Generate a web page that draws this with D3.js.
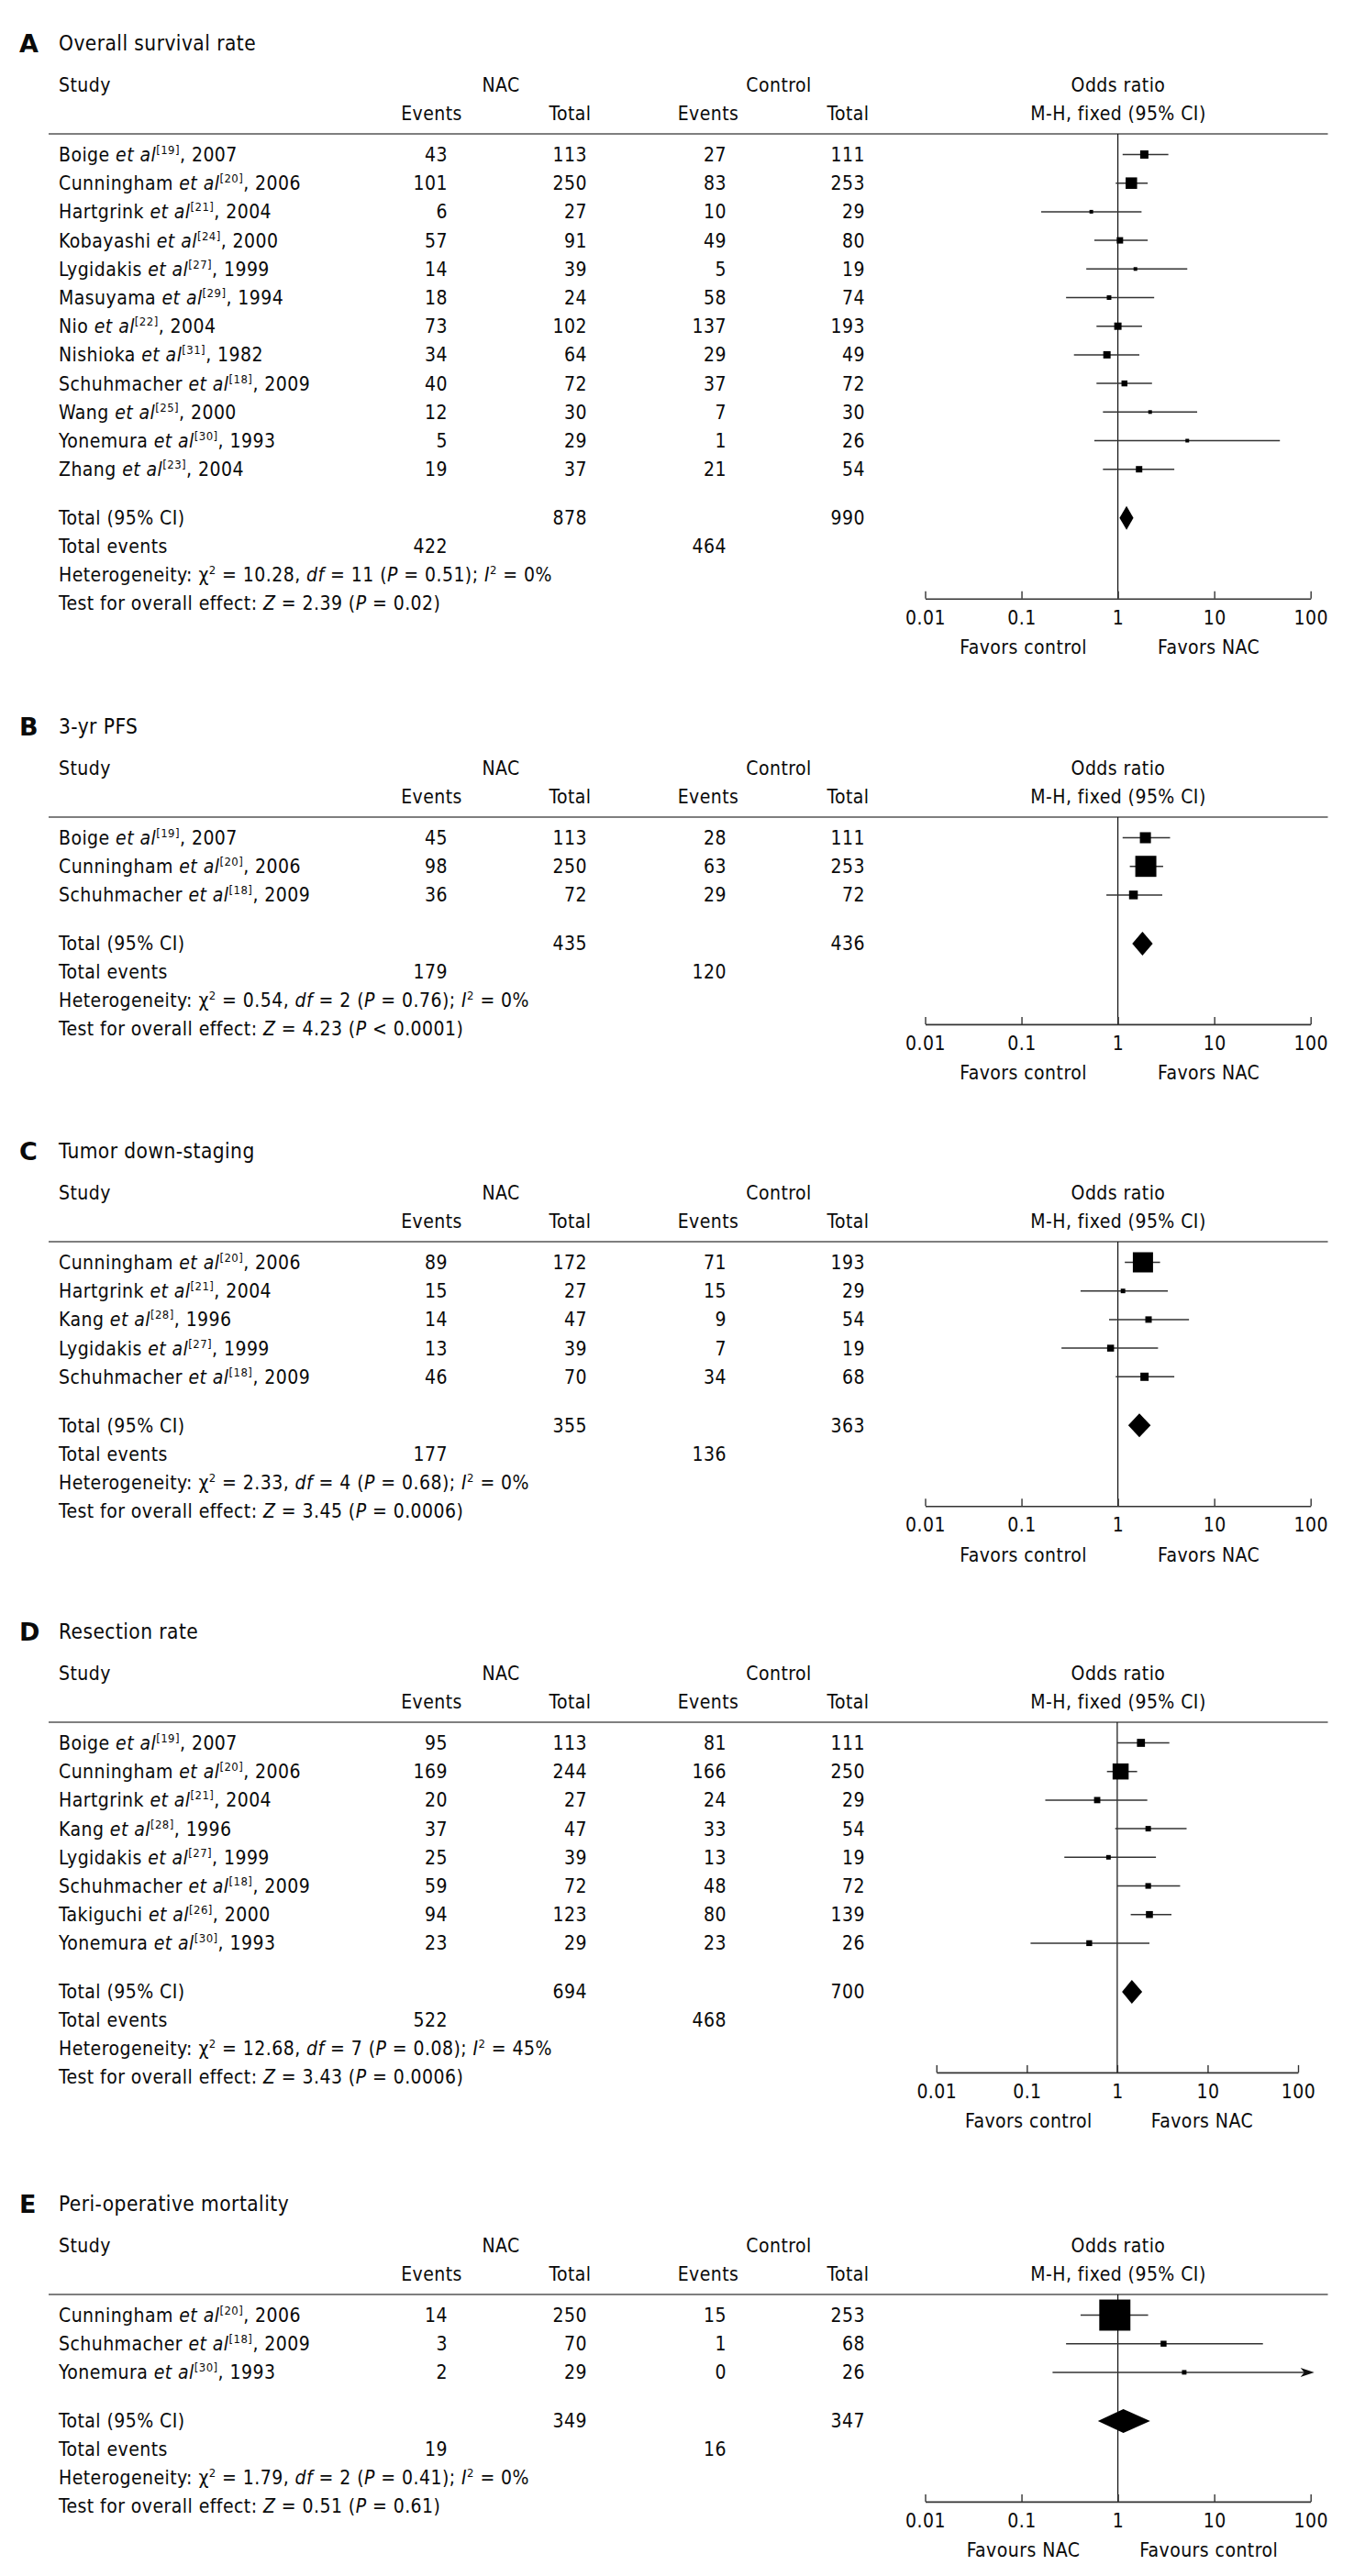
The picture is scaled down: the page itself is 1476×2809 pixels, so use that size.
<!DOCTYPE html>
<html>
<head>
<meta charset="utf-8">
<script src="https://cdn.jsdelivr.net/npm/d3@7"></script>
<style>
  body { margin: 0; background: #fff; }
  text { font-family: "DejaVu Sans Condensed", "DejaVu Sans", sans-serif; font-stretch: condensed; fill: #0a0a0a; letter-spacing: 0.45px; }
</style>
</head>
<body>
<script>
// ---- data ----
var tickValues = [0.01, 0.1, 1, 10, 100];
var tickLabels = ["0.01", "0.1", "1", "10", "100"];

// A: overall survival rate
var osStudies = [["Boige", 19, 2007], ["Cunningham", 20, 2006], ["Hartgrink", 21, 2004], ["Kobayashi", 24, 2000],
  ["Lygidakis", 27, 1999], ["Masuyama", 29, 1994], ["Nio", 22, 2004], ["Nishioka", 31, 1982],
  ["Schuhmacher", 18, 2009], ["Wang", 25, 2000], ["Yonemura", 30, 1993], ["Zhang", 23, 2004]];
var osNacEvents = [43, 101, 6, 57, 14, 18, 73, 34, 40, 12, 5, 19];
var osNacTotal = [113, 250, 27, 91, 39, 24, 102, 64, 72, 30, 29, 37];
var osCtlEvents = [27, 83, 10, 49, 5, 58, 137, 29, 37, 7, 1, 21];
var osCtlTotal = [111, 253, 29, 80, 19, 74, 193, 49, 72, 30, 26, 54];
var osOR = [1.88, 1.38, 0.53, 1.05, 1.52, 0.81, 1.0, 0.77, 1.17, 2.16, 5.25, 1.66];
var osLow = [1.12, 0.95, 0.16, 0.57, 0.47, 0.29, 0.60, 0.35, 0.60, 0.70, 0.57, 0.70];
var osHigh = [3.34, 2.04, 1.76, 2.04, 5.25, 2.38, 1.78, 1.67, 2.26, 6.65, 48, 3.85];
var osWeight = [6.6, 12.8, 1.3, 4, 1.3, 2, 5.2, 5.2, 3.4, 1.3, 1.0, 4];
var osSummary = [1.23, 1.04, 1.45];
var osTotals = [878, 990], osEvents = [422, 464];
var osHet = ["10.28", "11", "= 0.51", "0"], osTest = ["2.39", "= 0.02"];

// B: 3-yr PFS
var pfsStudies = [["Boige", 19, 2007], ["Cunningham", 20, 2006], ["Schuhmacher", 18, 2009]];
var pfsNacEvents = [45, 98, 36];
var pfsNacTotal = [113, 250, 72];
var pfsCtlEvents = [28, 63, 29];
var pfsCtlTotal = [111, 253, 72];
var pfsOR = [1.93, 1.95, 1.45];
var pfsLow = [1.12, 1.33, 0.76];
var pfsHigh = [3.48, 2.95, 2.89];
var pfsWeight = [11.8, 43, 7.4];
var pfsSummary = [1.80, 1.41, 2.30];
var pfsTotals = [435, 436], pfsEvents = [179, 120];
var pfsHet = ["0.54", "2", "= 0.76", "0"], pfsTest = ["4.23", "< 0.0001"];

// C: tumor down-staging
var dsStudies = [["Cunningham", 20, 2006], ["Hartgrink", 21, 2004], ["Kang", 28, 1996],
  ["Lygidakis", 27, 1999], ["Schuhmacher", 18, 2009]];
var dsNacEvents = [89, 15, 14, 13, 46];
var dsNacTotal = [172, 27, 47, 39, 70];
var dsCtlEvents = [71, 15, 9, 7, 34];
var dsCtlTotal = [193, 29, 54, 19, 68];
var dsOR = [1.82, 1.13, 2.08, 0.84, 1.89];
var dsLow = [1.18, 0.41, 0.81, 0.26, 0.95];
var dsHigh = [2.74, 3.30, 5.47, 2.61, 3.85];
var dsWeight = [39.5, 2, 4, 4.6, 6.6];
var dsSummary = [1.67, 1.28, 2.19];
var dsTotals = [355, 363], dsEvents = [177, 136];
var dsHet = ["2.33", "4", "= 0.68", "0"], dsTest = ["3.45", "= 0.0006"];

// D: resection rate
var rsStudies = [["Boige", 19, 2007], ["Cunningham", 20, 2006], ["Hartgrink", 21, 2004], ["Kang", 28, 1996],
  ["Lygidakis", 27, 1999], ["Schuhmacher", 18, 2009], ["Takiguchi", 26, 2000], ["Yonemura", 30, 1993]];
var rsNacEvents = [95, 169, 20, 37, 25, 59, 94, 23];
var rsNacTotal = [113, 244, 27, 47, 39, 72, 123, 29];
var rsCtlEvents = [81, 166, 24, 33, 13, 48, 80, 23];
var rsCtlTotal = [111, 250, 29, 54, 19, 72, 139, 26];
var rsOR = [1.83, 1.09, 0.60, 2.20, 0.80, 2.20, 2.27, 0.49];
var rsLow = [1.0, 0.77, 0.16, 0.95, 0.26, 1.0, 1.41, 0.11];
var rsHigh = [3.77, 1.66, 2.15, 5.85, 2.68, 4.96, 3.98, 2.27];
var rsWeight = [6.2, 25, 3.8, 2.9, 2, 3.1, 4.7, 3.3];
var rsSummary = [1.45, 1.13, 1.89];
var rsTotals = [694, 700], rsEvents = [522, 468];
var rsHet = ["12.68", "7", "= 0.08", "45"], rsTest = ["3.43", "= 0.0006"];

// E: peri-operative mortality
var pmStudies = [["Cunningham", 20, 2006], ["Schuhmacher", 18, 2009], ["Yonemura", 30, 1993]];
var pmNacEvents = [14, 3, 2];
var pmNacTotal = [250, 70, 29];
var pmCtlEvents = [15, 1, 0];
var pmCtlTotal = [253, 68, 26];
var pmOR = [0.93, 2.98, 4.88];
var pmLow = [0.41, 0.29, 0.21];
var pmHigh = [2.06, 32, 120];
var pmWeight = [94, 3.4, 2];
var pmSummary = [1.14, 0.62, 2.16];
var pmTotals = [349, 347], pmEvents = [19, 16];
var pmHet = ["1.79", "2", "= 0.41", "0"], pmTest = ["0.51", "= 0.61"];

var favorsNacRight = ["Favors control", "Favors NAC"];
var favorsNacLeft = ["Favours NAC", "Favours control"];

// ---- panels built from the arrays ----
function rows(st, ne, nt, ce, ct, or, lo, hi, w) {
  return st.map(function (s, i) {
    return { name: s[0], ref: s[1], year: s[2], ne: ne[i], nt: nt[i], ce: ce[i], ct: ct[i],
      or: or[i], lo: lo[i], hi: hi[i], w: w[i] };
  });
}

var panels = [
  { letter: "A", title: "Overall survival rate", top: 47, range: [1008.5, 1428.7],
    rows: rows(osStudies, osNacEvents, osNacTotal, osCtlEvents, osCtlTotal, osOR, osLow, osHigh, osWeight),
    summary: osSummary, totals: osTotals, events: osEvents, het: osHet, test: osTest, favors: favorsNacRight },
  { letter: "B", title: "3-yr PFS", top: 792, range: [1008.5, 1428.7],
    rows: rows(pfsStudies, pfsNacEvents, pfsNacTotal, pfsCtlEvents, pfsCtlTotal, pfsOR, pfsLow, pfsHigh, pfsWeight),
    summary: pfsSummary, totals: pfsTotals, events: pfsEvents, het: pfsHet, test: pfsTest, favors: favorsNacRight },
  { letter: "C", title: "Tumor down-staging", top: 1255, range: [1008.5, 1428.7],
    rows: rows(dsStudies, dsNacEvents, dsNacTotal, dsCtlEvents, dsCtlTotal, dsOR, dsLow, dsHigh, dsWeight),
    summary: dsSummary, totals: dsTotals, events: dsEvents, het: dsHet, test: dsTest, favors: favorsNacRight },
  { letter: "D", title: "Resection rate", top: 1779, range: [1020.8, 1415],
    rows: rows(rsStudies, rsNacEvents, rsNacTotal, rsCtlEvents, rsCtlTotal, rsOR, rsLow, rsHigh, rsWeight),
    summary: rsSummary, totals: rsTotals, events: rsEvents, het: rsHet, test: rsTest, favors: favorsNacRight },
  { letter: "E", title: "Peri-operative mortality", top: 2403, range: [1008.5, 1428.7],
    rows: rows(pmStudies, pmNacEvents, pmNacTotal, pmCtlEvents, pmCtlTotal, pmOR, pmLow, pmHigh, pmWeight),
    summary: pmSummary, totals: pmTotals, events: pmEvents, het: pmHet, test: pmTest, favors: favorsNacLeft }
];

// ---- drawing ----
var width = 1476, height = 2809;
var fs = 21;
var rowGap = 31.2;
var col = { study: 64, nacEv: 488, nacTot: 640, ctlEv: 792, ctlTot: 943,
  nacHead: 546, nacEvHead: 470.5, nacTotHead: 621.5, ctlHead: 849, ctlEvHead: 772, ctlTotHead: 924.5, orHead: 1219 };

var svg = d3.select("body").append("svg")
  .attr("width", width)
  .attr("height", height);

svg.append("rect").attr("width", width).attr("height", height).attr("fill", "#fff");

var boxSize = d3.scaleSqrt().domain([0, 100]).range([0, 35]);

// text centred on y, made of segments: [text, "i" italic | "s" superscript]
function label(g, x, y, anchor, segs, size) {
  size = size || fs;
  var t = g.append("text")
    .attr("x", x)
    .attr("y", y + size * 0.36)
    .attr("text-anchor", anchor)
    .style("font-size", size + "px");
  var up = false;
  segs.forEach(function (s) {
    if (typeof s === "string") s = [s, ""];
    var sp = t.append("tspan").text(s[0]);
    if (s[1] === "i") sp.style("font-style", "italic");
    if (s[1] === "s") {
      sp.style("font-size", "13px").attr("dy", up ? 0 : -8);
      up = true;
    } else if (up) {
      sp.attr("dy", 8);
      up = false;
    }
  });
  return t;
}

panels.forEach(function (p) {
  var g = svg.append("g");
  var T = p.top;
  var x = d3.scaleLog().domain([0.01, 100]).range(p.range);
  var lineY = T + 99;
  var rowY = function (i) { return T + 121.5 + i * rowGap; };
  var totalY = rowY(p.rows.length - 1) + 53;
  var testY = totalY + 93;
  var axisY = testY - 5;

  // panel letter and title
  g.append("text")
    .attr("x", 21).attr("y", T + 10)
    .style("font-family", "DejaVu Sans")
    .style("font-stretch", "normal")
    .style("letter-spacing", "0")
    .style("font-weight", "bold")
    .style("font-size", "27px")
    .text(p.letter);
  label(g, 64, T, "start", [p.title], 22.5);

  // headers
  label(g, col.study, T + 45, "start", ["Study"]);
  label(g, col.nacHead, T + 45, "middle", ["NAC"]);
  label(g, col.ctlHead, T + 45, "middle", ["Control"]);
  label(g, col.orHead, T + 45, "middle", ["Odds ratio"]);
  label(g, col.nacEvHead, T + 76, "middle", ["Events"]);
  label(g, col.nacTotHead, T + 76, "middle", ["Total"]);
  label(g, col.ctlEvHead, T + 76, "middle", ["Events"]);
  label(g, col.ctlTotHead, T + 76, "middle", ["Total"]);
  label(g, col.orHead, T + 76, "middle", ["M-H, fixed (95% CI)"]);

  g.append("line")
    .attr("x1", 53).attr("x2", 1447.5)
    .attr("y1", lineY).attr("y2", lineY)
    .attr("stroke", "#555").attr("stroke-width", 1.6);

  // line of no effect
  g.append("line")
    .attr("x1", x(1)).attr("x2", x(1))
    .attr("y1", lineY).attr("y2", axisY)
    .attr("stroke", "#111").attr("stroke-width", 1.2);

  // study rows
  p.rows.forEach(function (d, i) {
    var y = rowY(i);
    label(g, col.study, y, "start", [d.name + " ", ["et al", "i"], ["[" + d.ref + "]", "s"], ", " + d.year]);
    label(g, col.nacEv, y, "end", [String(d.ne)]);
    label(g, col.nacTot, y, "end", [String(d.nt)]);
    label(g, col.ctlEv, y, "end", [String(d.ce)]);
    label(g, col.ctlTot, y, "end", [String(d.ct)]);

    var over = d.hi > 100;
    var xHi = over ? x(100) + 4 : x(d.hi);
    g.append("line")
      .attr("x1", x(d.lo)).attr("x2", over ? xHi - 10 : xHi)
      .attr("y1", y).attr("y2", y)
      .attr("stroke", "#333").attr("stroke-width", 1.5);
    if (over) {
      g.append("path")
        .attr("d", "M" + xHi + "," + y + "L" + (xHi - 15) + "," + (y - 5) + "L" + (xHi - 11) + "," + y +
          "L" + (xHi - 15) + "," + (y + 5) + "Z")
        .attr("fill", "#111");
    }
    var s = Math.max(4, boxSize(d.w));
    g.append("rect")
      .attr("x", x(d.or) - s / 2).attr("y", y - s / 2)
      .attr("width", s).attr("height", s)
      .attr("fill", "#000");
  });

  // totals
  label(g, col.study, totalY, "start", ["Total (95% CI)"]);
  label(g, col.nacTot, totalY, "end", [String(p.totals[0])]);
  label(g, col.ctlTot, totalY, "end", [String(p.totals[1])]);
  label(g, col.study, totalY + 31, "start", ["Total events"]);
  label(g, col.nacEv, totalY + 31, "end", [String(p.events[0])]);
  label(g, col.ctlEv, totalY + 31, "end", [String(p.events[1])]);
  label(g, col.study, totalY + 62, "start", ["Heterogeneity: χ", ["2", "s"], " = " + p.het[0] + ", ", ["df", "i"],
    " = " + p.het[1] + " (", ["P", "i"], " " + p.het[2] + "); ", ["I", "i"], ["2", "s"], " = " + p.het[3] + "%"]);
  label(g, col.study, testY, "start", ["Test for overall effect: ", ["Z", "i"], " = " + p.test[0] + " (", ["P", "i"],
    " " + p.test[1] + ")"]);

  var sm = p.summary;
  g.append("path")
    .attr("d", "M" + x(sm[1]) + "," + totalY + "L" + x(sm[0]) + "," + (totalY - 13) +
      "L" + x(sm[2]) + "," + totalY + "L" + x(sm[0]) + "," + (totalY + 13) + "Z")
    .attr("fill", "#000");

  // log axis
  var axis = d3.axisBottom(x)
    .tickValues(tickValues)
    .tickFormat(function (d, i) { return tickLabels[i]; })
    .tickSizeInner(-8)
    .tickSizeOuter(0)
    .tickPadding(13);
  var ag = g.append("g")
    .attr("transform", "translate(0," + axisY + ")")
    .call(axis);
  ag.select(".domain").attr("stroke", "#333").attr("stroke-width", 1.6);
  ag.selectAll(".tick line").attr("stroke", "#333").attr("stroke-width", 1.4);
  ag.selectAll(".tick text")
    .attr("fill", "#0a0a0a")
    .style("font-family", "\"DejaVu Sans Condensed\", \"DejaVu Sans\", sans-serif")
    .style("font-stretch", "condensed")
    .style("font-size", fs + "px");

  label(g, x(0.1) + 2, axisY + 53, "middle", [p.favors[0]]);
  label(g, x(10) - 6, axisY + 53, "middle", [p.favors[1]]);
});
</script>
</body>
</html>
